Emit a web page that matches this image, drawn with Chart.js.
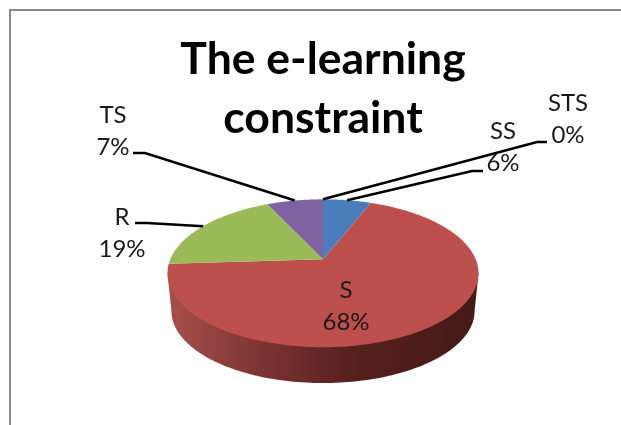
<!DOCTYPE html>
<html>
<head>
<meta charset="utf-8">
<title>The e-learning constraint</title>
<script src="https://cdn.jsdelivr.net/npm/chart.js@4/dist/chart.umd.js"></script>
<style>
    html, body { margin: 0; padding: 0; background: #fff; overflow: hidden; }
    .frame { position: absolute; left: 9px; top: 9px; right: 0; bottom: 0; border-left: 2px solid #8a8a8a; border-top: 2px solid #8a8a8a; }
    .chart-box { position: absolute; left: 0; top: 0; width: 621px; height: 425px; }
</style>
</head>
<body>
<div class="frame"></div>
<div class="chart-box"><canvas id="pieChart"></canvas></div>
<script>
const titleLines = ['The e-learning', 'constraint'];
const categories = ['STS', 'SS', 'S', 'R', 'TS'];
const values = [0, 6, 68, 19, 7];
const sliceColors = ['#F79646', '#4A7EBB', '#BD4F4C', '#9BBB59', '#8064A2'];

// where each label sits and how its leader line bends (null = no leader, label on the slice)
const labelLayout = {
    STS: { x: 568, y: 103, from: [547, 142], elbow: [537, 142] },
    SS: { x: 503, y: 131, from: [483, 171], elbow: [472, 171] },
    S: { x: 346, y: 290, from: null },
    R: { x: 122, y: 217, from: [135, 223], elbow: [147, 223] },
    TS: { x: 113, y: 115, from: [133, 153], elbow: [145, 153] }
};

// Perspective of the tilted pie
const tilt = 0.189;
const squash = 0.467;
const wallDrop = 38;
const wallShrink = 0.975;

function project(el, angle) {
    const u = Math.cos(angle), v = Math.sin(angle);
    const d = 1 - tilt * v;
    return [el.x + el.outerRadius * u / d, el.y + el.outerRadius * squash * v / d];
}

// Slices keep the angles and colours the library gives them, only the outline is tilted
Chart.ArcElement.prototype.draw = function(ctx) {
    const { startAngle, endAngle } = this;
    if (endAngle - startAngle <= 0) return;
    ctx.beginPath();
    ctx.moveTo(this.x, this.y);
    const steps = Math.ceil((endAngle - startAngle) * 60);
    for (let i = 0; i <= steps; i++) {
        const p = project(this, startAngle + (endAngle - startAngle) * i / steps);
        ctx.lineTo(p[0], p[1]);
    }
    ctx.closePath();
    ctx.fillStyle = this.options.backgroundColor;
    ctx.fill();
};

const wallPlugin = {
    id: 'wall',
    beforeDatasetsDraw(chart) {
        const el = chart.getDatasetMeta(0).data[categories.indexOf('S')];
        const ctx = chart.ctx;
        const lower = a => {
            const p = project(el, a);
            return [el.x + (p[0] - el.x) * wallShrink, el.y + (p[1] - el.y) * wallShrink + wallDrop];
        };
        const side = Math.asin(tilt);
        const grad = ctx.createLinearGradient(el.x - el.outerRadius, 0, el.x + el.outerRadius, 0);
        grad.addColorStop(0, '#a64f4c');
        grad.addColorStop(0.3, '#7c3432');
        grad.addColorStop(0.6, '#55201e');
        grad.addColorStop(1, '#451a18');
        ctx.save();
        ctx.beginPath();
        const tr = project(el, side);
        ctx.moveTo(tr[0], tr[1]);
        for (let i = 0; i <= 120; i++) {
            const p = lower(side + (Math.PI - 2 * side) * i / 120);
            ctx.lineTo(p[0], p[1]);
        }
        const tl = project(el, Math.PI - side);
        ctx.lineTo(tl[0], tl[1]);
        ctx.closePath();
        ctx.fillStyle = grad;
        ctx.fill();
        ctx.restore();
    }
};

const labelPlugin = {
    id: 'sliceLabels',
    afterDatasetsDraw(chart) {
        const ctx = chart.ctx;
        const arcs = chart.getDatasetMeta(0).data;
        ctx.save();
        categories.forEach((name, i) => {
            const spot = labelLayout[name];
            if (spot.from) {
                const tip = project(arcs[i], (arcs[i].startAngle + arcs[i].endAngle) / 2);
                ctx.beginPath();
                ctx.moveTo(spot.from[0], spot.from[1]);
                ctx.lineTo(spot.elbow[0], spot.elbow[1]);
                ctx.lineTo(tip[0], tip[1]);
                ctx.strokeStyle = '#000';
                ctx.lineWidth = 2.5;
                ctx.stroke();
            }
            ctx.fillStyle = '#1a1a1a';
            ctx.font = '24px Lato';
            ctx.textAlign = 'center';
            ctx.textBaseline = 'middle';
            ctx.fillText(name, spot.x, spot.y);
            ctx.fillText(values[i] + '%', spot.x, spot.y + 32);
        });
        ctx.restore();
    }
};

new Chart(document.getElementById('pieChart').getContext('2d'), {
    type: 'pie',
    data: {
        labels: categories,
        datasets: [{
            data: values,
            backgroundColor: sliceColors,
            borderWidth: 0
        }]
    },
    options: {
        responsive: true,
        maintainAspectRatio: false,
        animation: false,
        layout: {
            padding: { left: 170, right: 145, top: 0, bottom: 13 }
        },
        plugins: {
            legend: { display: false },
            tooltip: { enabled: false },
            title: {
                display: true,
                text: titleLines,
                color: '#000',
                font: { family: 'Lato', size: 44.5, weight: 'bold', lineHeight: 1.31 },
                padding: { top: 31, bottom: -41 }
            }
        }
    },
    plugins: [wallPlugin, labelPlugin]
});
</script>
</body>
</html>
